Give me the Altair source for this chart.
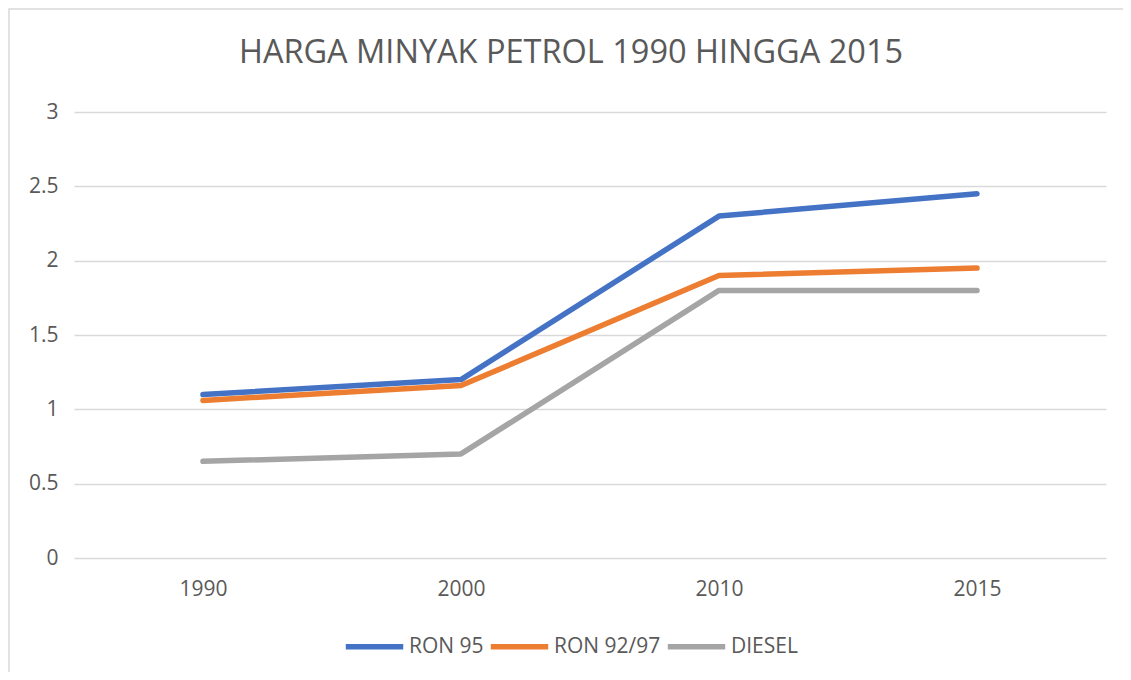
import altair as alt
import pandas as pd

years = ["1990", "2000", "2010", "2015"]
ron95 = [1.10, 1.20, 2.30, 2.45]
ron9297 = [1.06, 1.16, 1.90, 1.95]
diesel = [0.65, 0.70, 1.80, 1.80]
series_names = ["RON 95", "RON 92/97", "DIESEL"]
colors = ["#4472C4", "#ED7D31", "#A5A5A5"]
title_text = ["HARGA MINYAK PETROL 1990 HINGGA 2015"]

rows = []
for name, vals in zip(series_names, [ron95, ron9297, diesel]):
    for y, v in zip(years, vals):
        rows.append({"Tahun": y, "Harga": v, "Siri": name})
df = pd.DataFrame(rows)

FONT = "Open Sans"
W, H = 1032, 446
PL, PT = 66, 104

border = alt.Chart(pd.DataFrame({"a": [0]})).mark_rect(
    fill=None, stroke="#d9d9d9", strokeWidth=1.5
).encode(
    x=alt.value(-PL + 1), x2=alt.value(W + 200),
    y=alt.value(-PT + 1), y2=alt.value(H + 300)
)

title = alt.Chart(pd.DataFrame({"t": title_text})).mark_text(
    font=FONT, fontSize=32.5, color="#595959", align="center", baseline="middle"
).encode(text="t:N", x=alt.value(497), y=alt.value(-59))

lines = alt.Chart(df).mark_line(strokeWidth=5.5, strokeCap="round", strokeJoin="round").encode(
    x=alt.X("Tahun:O", sort=years, scale=alt.Scale(type="point", padding=0.5),
            axis=alt.Axis(title=None, labelAngle=0, domain=False, ticks=False,
                          labelPadding=20, labelFontSize=21, labelColor="#595959",
                          labelFont=FONT, grid=False)),
    y=alt.Y("Harga:Q", scale=alt.Scale(domain=[0, 3]),
            axis=alt.Axis(title=None, values=[0, 0.5, 1, 1.5, 2, 2.5, 3], format="~g",
                          domain=False, ticks=False, labelPadding=16, labelFontSize=21,
                          labelColor="#595959", labelFont=FONT, gridColor="#d9d9d9",
                          gridWidth=1.5)),
    color=alt.Color("Siri:N", sort=series_names,
                    scale=alt.Scale(domain=series_names, range=colors),
                    legend=alt.Legend(title=None, orient="none", direction="horizontal",
                                      legendX=269, legendY=503, symbolType="stroke",
                                      symbolSize=3300, symbolStrokeWidth=5.5,
                                      labelFontSize=21, labelColor="#595959", labelFont=FONT,
                                      columnPadding=-5, labelOffset=3)),
    order=alt.Order("Siri:N")
)

chart = alt.layer(border, title, lines).properties(
    width=W, height=H,
    background="white",
    view=alt.ViewBackground(strokeWidth=0, strokeOpacity=0),
    autosize=alt.AutoSizeParams(type="none"),
    padding={"left": PL, "top": PT, "right": 1115 - PL - W, "bottom": 664 - PT - H},
).configure_view(strokeWidth=0, strokeOpacity=0).configure_axisX(grid=False, domain=False)

chart.save("out.html", embed_options={"renderer": "svg", "actions": False})
